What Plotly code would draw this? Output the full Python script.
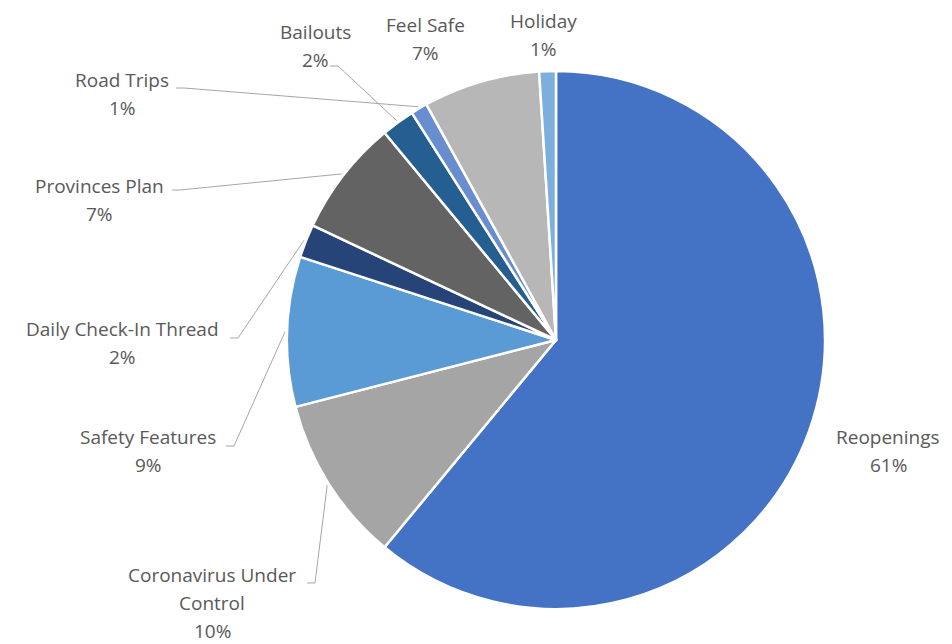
import math
import plotly.graph_objects as go

# ---- data ----
categories = ["Reopenings", "Coronavirus Under Control", "Safety Features",
              "Daily Check-In Thread", "Provinces Plan", "Bailouts",
              "Road Trips", "Feel Safe", "Holiday"]
shares = [61, 10, 9, 2, 7, 2, 1, 7, 1]
label_lines = [["Reopenings", "61%"],
               ["Coronavirus Under", "Control", "10%"],
               ["Safety Features", "9%"],
               ["Daily Check-In Thread", "2%"],
               ["Provinces Plan", "7%"],
               ["Bailouts", "2%"],
               ["Road Trips", "1%"],
               ["Feel Safe", "7%"],
               ["Holiday", "1%"]]

# ---- styles / layout ----
colors = ["#4472C4", "#A5A5A5", "#5B9BD5", "#264478", "#636363",
          "#255E91", "#698ED0", "#B7B7B7", "#7CAFDD"]
W, H = 952, 644
OFF = 8  # page body margin
CX, CY, R = 556, 340, 269
# label centre x, first-line y (screen pixels), and leader start (None = no leader)
label_pos = [(888, 437, None),
             (212, 575, (307, 583)),
             (148, 437, (226, 446)),
             (122, 329, (230, 338)),
             (99, 186, (172, 190)),
             (315, 32, (330, 66)),
             (122, 80, (176, 88)),
             (425, 25, None),
             (543, 21, None)]
LINE_H = 28
FONT = dict(family="Open Sans, sans-serif", size=19, color="#595959")

def px(x):
    return (x - OFF) / W

def py(y):
    return 1 - (y - OFF) / H

fig = go.Figure(go.Pie(
    labels=categories, values=shares, sort=False, direction="clockwise",
    rotation=0, textinfo="none", hoverinfo="label+percent",
    marker=dict(colors=colors, line=dict(color="white", width=2.5)),
    domain=dict(x=[px(CX - R), px(CX + R)], y=[py(CY + R), py(CY - R)]),
    showlegend=False,
))

total = sum(shares)
cum = 0
annotations, shapes = [], []
for i, v in enumerate(shares):
    mid = (cum + v / 2) / total * 2 * math.pi
    cum += v
    lx, ly, lead = label_pos[i]
    for k, t in enumerate(label_lines[i]):
        annotations.append(dict(x=px(lx), y=py(ly + k * LINE_H), xref="paper", yref="paper",
                                text=t, showarrow=False, font=FONT,
                                xanchor="center", yanchor="middle"))
    if lead is not None:
        ax = CX + (R + 2) * math.sin(mid)
        ay = CY - (R + 2) * math.cos(mid)
        sx, sy = lead
        path = f"M {px(sx)},{py(sy)} L {px(sx + 8)},{py(sy)} L {px(ax)},{py(ay)}"
        shapes.append(dict(type="path", path=path, xref="paper", yref="paper",
                           line=dict(color="#A6A6A6", width=1)))

fig.update_layout(width=W, height=H, margin=dict(l=0, r=0, t=0, b=0),
                  paper_bgcolor="white", plot_bgcolor="white",
                  annotations=annotations, shapes=shapes)
fig.write_html("out.html")
